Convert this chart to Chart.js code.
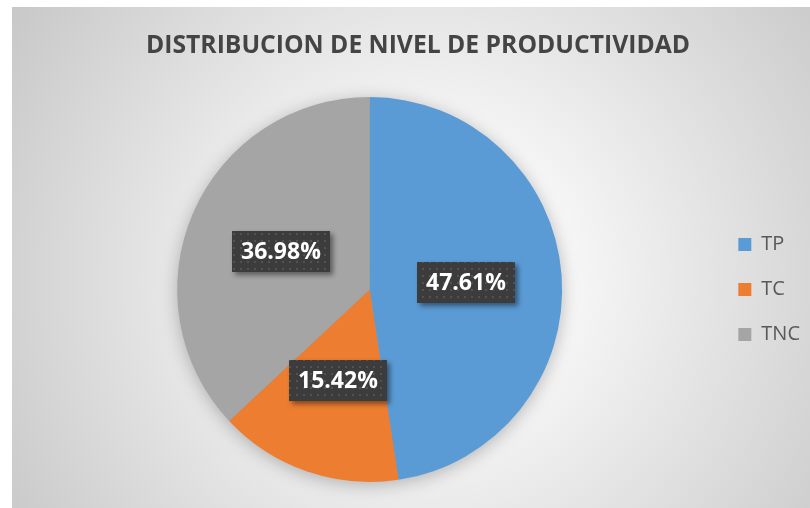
<!DOCTYPE html>
<html><head><meta charset="utf-8">
<script src="https://cdn.jsdelivr.net/npm/chart.js@4"></script>
<style>html,body{margin:0;padding:0;background:#fff;overflow:hidden}#wrap{position:absolute;left:0;top:0;width:810px;height:508px}</style>
</head><body><div id="wrap"><canvas id="c" width="810" height="508"></canvas></div>
<script>
const categories = ['TP', 'TC', 'TNC'];
const values = [47.61, 15.42, 36.98];
const valueLabels = ['47.61%', '15.42%', '36.98%'];
const sliceColors = ['#5B9BD5', '#ED7D31', '#A5A5A5'];
const titleText = 'DISTRIBUCION DE NIVEL DE PRODUCTIVIDAD';

function makePattern(ctx) {
  const t = document.createElement('canvas');
  t.width = 7; t.height = 7;
  const g = t.getContext('2d');
  g.fillStyle = '#3c3c3c'; g.fillRect(0, 0, 7, 7);
  g.fillStyle = '#525252'; g.fillRect(2, 2, 2, 2);
  return ctx.createPattern(t, 'repeat');
}

const bgPlugin = {
  id: 'bg',
  beforeDraw(chart) {
    const ctx = chart.ctx;
    ctx.save();
    ctx.fillStyle = '#ffffff';
    ctx.fillRect(0, 0, chart.width, chart.height);
    const x0 = 12, y0 = 7;
    const cx = (x0 + chart.width) / 2 + 20, cy = (y0 + chart.height) / 2 + 20;
    const g = ctx.createRadialGradient(cx, cy, 0, cx, cy, 560);
    g.addColorStop(0, '#ffffff');
    g.addColorStop(0.25, '#f6f6f6');
    g.addColorStop(1, '#c0c0c0');
    ctx.fillStyle = g;
    ctx.fillRect(x0, y0, chart.width - x0, chart.height - y0);
    ctx.restore();
  }
};

const shadowPlugin = {
  id: 'pieShadow',
  beforeDatasetsDraw(chart) {
    const arc = chart.getDatasetMeta(0).data[0];
    if (!arc) return;
    const ctx = chart.ctx;
    ctx.save();
    ctx.shadowColor = 'rgba(0,0,0,0.28)';
    ctx.shadowBlur = 18;
    ctx.shadowOffsetY = 3;
    ctx.fillStyle = '#999';
    ctx.beginPath();
    ctx.arc(arc.x, arc.y, arc.outerRadius - 1, 0, Math.PI * 2);
    ctx.fill();
    ctx.restore();
  }
};

const labelPlugin = {
  id: 'boxLabels',
  afterDatasetsDraw(chart) {
    const ctx = chart.ctx;
    const meta = chart.getDatasetMeta(0);
    const pattern = makePattern(ctx);
    ctx.save();
    ctx.font = 'bold 23px "Open Sans"';
    ctx.textAlign = 'center';
    ctx.textBaseline = 'middle';
    meta.data.forEach((arc, i) => {
      const p = arc.tooltipPosition();
      const txt = valueLabels[i];
      const w = ctx.measureText(txt).width + 18;
      const h = 41;
      const x = Math.round(p.x - w / 2), y = Math.round(p.y - h / 2);
      ctx.save();
      ctx.shadowColor = 'rgba(0,0,0,0.45)';
      ctx.shadowBlur = 5;
      ctx.shadowOffsetX = 3;
      ctx.shadowOffsetY = 3;
      ctx.fillStyle = '#3c3c3c';
      ctx.fillRect(x, y, w, h);
      ctx.restore();
      ctx.fillStyle = pattern;
      ctx.fillRect(x, y, w, h);
      ctx.fillStyle = '#ffffff';
      ctx.fillText(txt, x + w / 2, y + h / 2 + 1);
    });
    ctx.restore();
  }
};

new Chart(document.getElementById('c'), {
  type: 'pie',
  data: {
    labels: categories,
    datasets: [{
      data: values,
      backgroundColor: sliceColors,
      borderWidth: 0
    }]
  },
  options: {
    responsive: false,
    animation: false,
    layout: { padding: { left: 26, right: 0, top: 0, bottom: 26 } },
    plugins: {
      title: {
        display: true,
        text: titleText,
        color: '#444444',
        font: { family: '"Open Sans"', size: 24.7, weight: 'bold' },
        padding: { top: 31, bottom: 36.4 }
      },
      legend: {
        display: true,
        position: 'right',
        fullSize: false,
        labels: {
          color: '#595959',
          font: { family: '"Open Sans"', size: 20 },
          boxWidth: 13,
          boxHeight: 13,
          padding: 25
        }
      },
      tooltip: { enabled: false }
    }
  },
  plugins: [bgPlugin, shadowPlugin, labelPlugin]
});
</script>
</body></html>
